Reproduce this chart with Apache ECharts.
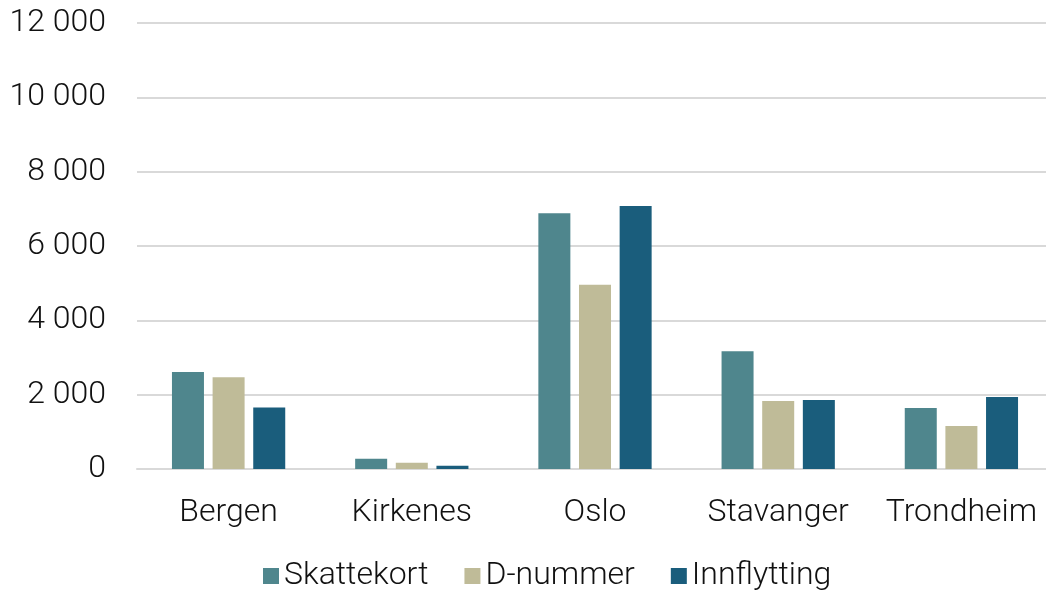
<!DOCTYPE html>
<html><head><meta charset="utf-8">
<script src="https://cdn.jsdelivr.net/npm/echarts@6/dist/echarts.min.js"></script>
<style>html,body{margin:0;padding:0;overflow:hidden;background:#fff}#c{width:1060px;height:590px}</style>
</head><body><div id="c"></div>
<script>
const categories = ['Bergen', 'Kirkenes', 'Oslo', 'Stavanger', 'Trondheim'];
const skattekort = [2610, 275, 6880, 3170, 1640];
const dnummer = [2470, 170, 4960, 1830, 1160];
const innflytting = [1655, 90, 7075, 1855, 1935];
const seriesNames = ['Skattekort', 'D-nummer', 'Innflytting'];
const colors = ['#4f868d', '#bfbb98', '#1a5d7c'];

const font = 'Roboto, "Liberation Sans", sans-serif';
const chart = echarts.init(document.getElementById('c'), null, {renderer: 'canvas'});
const fmt = v => String(v).replace(/\B(?=(\d{3})+(?!\d))/g, ' ');
chart.setOption({
  animation: false,
  color: colors,
  grid: {left: 137, right: 7, top: 23, bottom: 121, containLabel: false},
  legend: {
    left: 258, top: 555, itemWidth: 16, itemHeight: 16, itemGap: 36,
    icon: 'rect',
    textStyle: {fontFamily: font, fontWeight: 300, fontSize: 32, color: '#111', padding: [0, 0, 0, 0]},
    data: seriesNames
  },
  xAxis: {
    type: 'category', data: categories,
    axisLine: {show: true, lineStyle: {color: '#d9d9d9', width: 2}},
    axisTick: {show: false},
    axisLabel: {interval: 0, fontFamily: font, fontWeight: 300, fontSize: 32, color: '#111', margin: 28}
  },
  yAxis: {
    type: 'value', min: 0, max: 12000, interval: 2000,
    axisLine: {show: false}, axisTick: {show: false},
    splitLine: {lineStyle: {color: '#d9d9d9', width: 2}},
    axisLabel: {fontFamily: font, fontWeight: 300, fontSize: 32, color: '#111', margin: 31, formatter: fmt}
  },
  series: [
    {name: seriesNames[0], type: 'bar', data: skattekort, barWidth: 32, barGap: '27%'},
    {name: seriesNames[1], type: 'bar', data: dnummer, barWidth: 32, barGap: '27%'},
    {name: seriesNames[2], type: 'bar', data: innflytting, barWidth: 32, barGap: '27%'}
  ]
});
</script></body></html>
